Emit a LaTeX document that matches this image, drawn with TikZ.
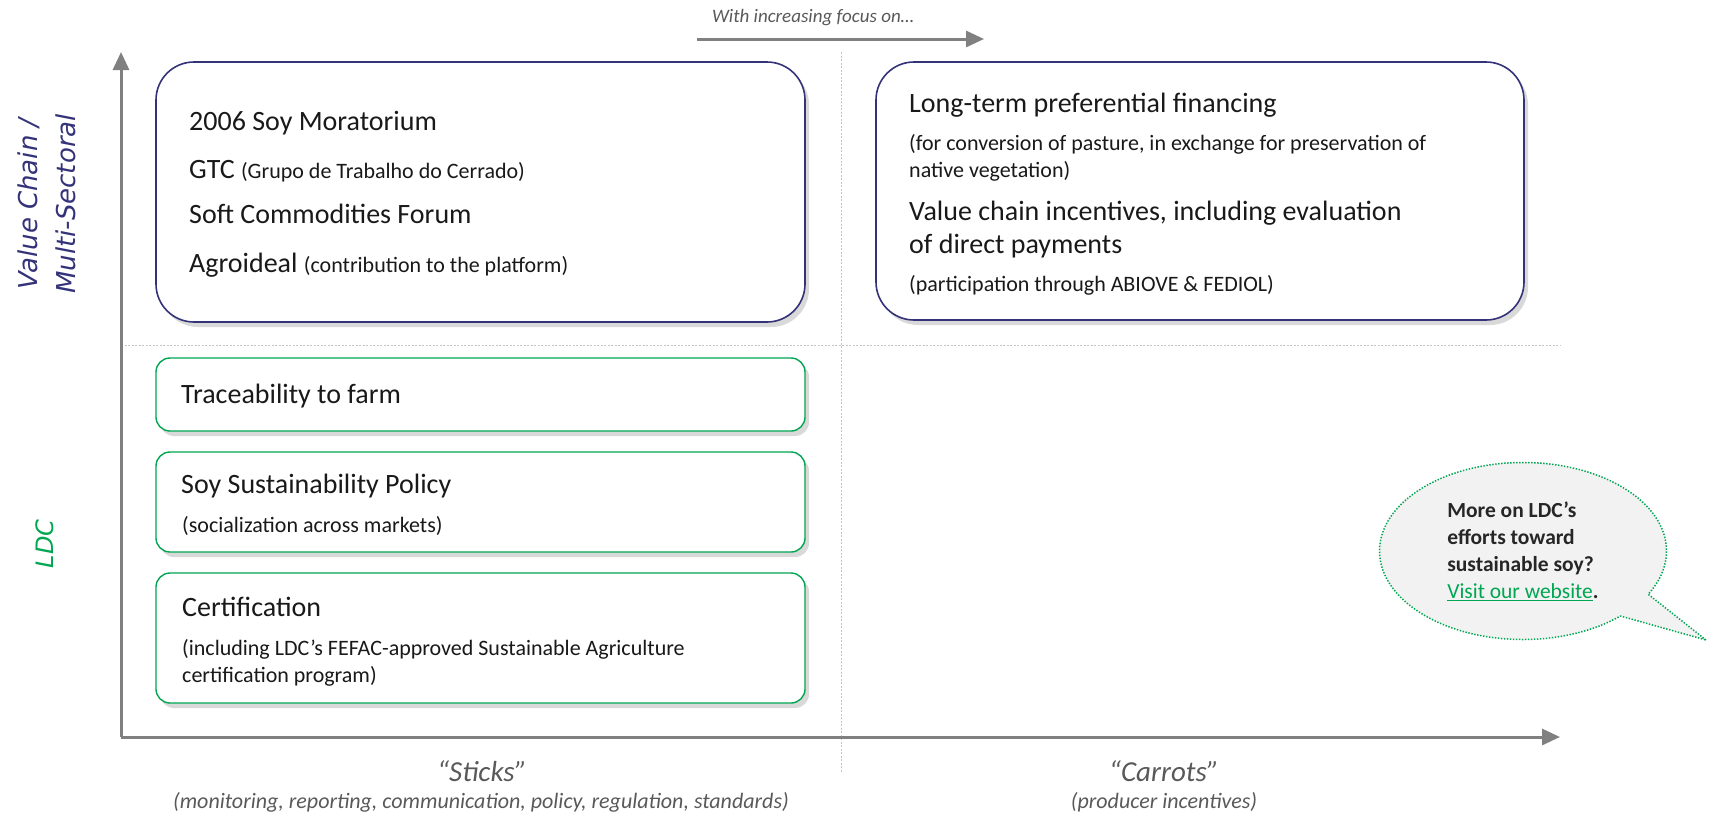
\documentclass[tikz,border=0pt]{standalone}
\usepackage{fontspec}
\setmainfont{Carlito}
\newfontfamily\axisfont{DejaVu Sans}
\usepackage{tikz}
\usetikzlibrary{arrows.meta,shapes.callouts,shadows}

\definecolor{navy}{RGB}{52,50,120}
\definecolor{ldcgreen}{RGB}{0,166,81}
\definecolor{axisgray}{RGB}{128,128,128}
\definecolor{textgray}{RGB}{89,89,89}
\definecolor{bubblefill}{RGB}{242,242,242}

\begin{document}
\begin{tikzpicture}[x=1pt, y=-1pt, >={Triangle[length=18pt,width=16pt]}, line join=round]

    \tikzstyle{vcbox}=[draw=navy, line width=1.6pt, rounded corners=38pt, fill=white,
                       drop shadow={shadow xshift=4pt, shadow yshift=-5pt, opacity=0.3}]
    \tikzstyle{ldcbox}=[draw=ldcgreen, line width=1.4pt, rounded corners=14pt, fill=white,
                        drop shadow={shadow xshift=4pt, shadow yshift=-5pt, opacity=0.3}]
    \tikzstyle{head}=[anchor=base west, inner sep=0pt, text=black!90, font=\fontsize{28}{34}\selectfont]
    \tikzstyle{note}=[anchor=base west, inner sep=0pt, text=black!90, font=\fontsize{22}{26}\selectfont]
    \tikzstyle{axis}=[draw=axisgray, line width=3pt, ->]
    \tikzstyle{divider}=[draw=gray!45, line width=0.8pt, dash pattern=on 2pt off 1.5pt]
    \tikzstyle{caption}=[anchor=base, inner sep=0pt, text=textgray]

    \useasboundingbox (0,0) rectangle (1711,815);

    % axes and quadrant lines
    \coordinate (origin) at (121,737);
    \coordinate (ytop)   at (121,52);
    \coordinate (xend)   at (1560,737);
    \coordinate (vtop)   at (841,52);
    \coordinate (vbot)   at (841,772);
    \coordinate (hleft)  at (121,345);
    \coordinate (hright) at (1560,345);
    \coordinate (fstart) at (697,39);
    \coordinate (fend)   at (984,39);

    \draw[divider] (vtop) -- (vbot);
    \draw[divider] (hleft) -- (hright);
    \draw[axis] (origin) -- (ytop);
    \draw[axis] (origin) -- (xend);
    \draw[axis] (fstart) -- (fend);

    \node[caption, font=\itshape\fontsize{19}{22}\selectfont] (focus) at (813,22) {With increasing focus on…};
    \node[caption, font=\itshape\fontsize{29}{30}\selectfont] (sticks) at (482,781) {“Sticks”};
    \node[caption, font=\itshape\fontsize{22}{24}\selectfont] (sticksnote) at (481,808)
         {(monitoring, reporting, communication, policy, regulation, standards)};
    \node[caption, font=\itshape\fontsize{29}{30}\selectfont] (carrots) at (1164,781) {“Carrots”};
    \node[caption, font=\itshape\fontsize{22}{24}\selectfont] (carrotsnote) at (1164,808) {(producer incentives)};

    \node[rotate=90, align=center, text=navy, font=\axisfont\itshape\fontsize{26}{38}\selectfont]
         (vclabel) at (47,204) {Value Chain /\\Multi-Sectoral};
    \node[rotate=90, text=ldcgreen, font=\axisfont\itshape\fontsize{24}{30}\selectfont]
         (ldclabel) at (45,544) {LDC};

    % value chain boxes
    \node[vcbox, minimum width=649pt, minimum height=260pt] (vcsticks)  at (480.5,192) {};
    \node[vcbox, minimum width=648pt, minimum height=258pt] (vccarrots) at (1200,191) {};

    \node[head] (morat)  at (189,130) {2006 Soy Moratorium};
    \node[head] (gtc)    at (189,178) {GTC {\fontsize{22}{26}\selectfont (Grupo de Trabalho do Cerrado)}};
    \node[head] (scf)    at (189,223) {Soft Commodities Forum};
    \node[head] (agro)   at (189,272) {Agroideal {\fontsize{22}{26}\selectfont (contribution to the platform)}};

    \node[head] (finance)  at (909,112) {Long-term preferential financing};
    \node[note] (financea) at (909,150) {(for conversion of pasture, in exchange for preservation of};
    \node[note] (financeb) at (909,177) {native vegetation)};
    \node[head] (incenta)  at (909,220) {Value chain incentives, including evaluation};
    \node[head] (incentb)  at (909,253) {of direct payments};
    \node[note] (abiove)   at (909,291) {(participation through ABIOVE \& FEDIOL)};

    % LDC boxes
    \node[ldcbox, minimum width=649pt, minimum height=73pt]  (trace) at (480.5,394.5) {};
    \node[ldcbox, minimum width=649pt, minimum height=100pt] (policy) at (480.5,502) {};
    \node[ldcbox, minimum width=649pt, minimum height=130pt] (cert) at (480.5,638) {};

    \node[head] (tracet)   at (181,403) {Traceability to farm};
    \node[head] (policyt)  at (181,493) {Soy Sustainability Policy};
    \node[note] (policyn)  at (182,532) {(socialization across markets)};
    \node[head] (certt)    at (182,616) {Certification};
    \node[note] (certna)   at (182,655) {(including LDC’s FEFAC-approved Sustainable Agriculture};
    \node[note] (certnb)   at (182,682) {certification program)};

    % speech bubble
    \coordinate (tip) at (1706,640);
    \node[ellipse callout, callout absolute pointer={(tip)}, callout pointer arc=18,
          draw=ldcgreen, line width=1.5pt, dash pattern=on 1.4pt off 1.6pt, fill=bubblefill,
          minimum width=287pt, minimum height=177pt, align=left, text=black!85,
          font=\bfseries\fontsize{21.5}{27}\selectfont] (bubble) at (1523,551)
         {More on LDC’s\\efforts toward\\sustainable soy?\\{\mdseries\color{ldcgreen}\underline{Visit our website}}.};

\end{tikzpicture}
\end{document}
